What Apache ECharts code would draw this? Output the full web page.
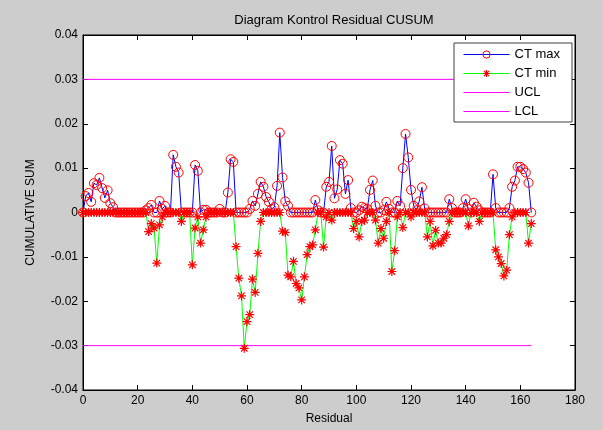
<!DOCTYPE html>
<html><head><meta charset="utf-8">
<script src="https://cdn.jsdelivr.net/npm/echarts@6/dist/echarts.min.js"></script>
<style>html,body{margin:0;padding:0;background:#cdcdcd}#c{width:603px;height:430px}</style>
</head><body><div id="c"></div>
<script>
var titleText = 'Diagram Kontrol Residual CUSUM';
var xLabel = 'Residual';
var yLabel = 'CUMULATIVE SUM';
var seriesNames = ['CT max', 'CT min', 'UCL', 'LCL'];
var uclValue = 0.03;
var lclValue = -0.03;
var limitStart = 0;
var limitEnd = 164;
// CT max, index 0..164
var ctMax = [
0,0.0037,0.0044,0.0024,0.0066,0.0062,0.0078,0.0055,0.0033,0.005,
0.0021,0.0012,0,0,0,0,0,0,0,0,
0,0,0,0.0005,0.001,0.0017,0,0,0.0026,0.0008,
0.0015,0,0,0.013,0.0103,0.009,0,0,0,0,
0,0.0107,0.0094,0,0.0006,0.0006,0,0,0,0,
0.0008,0,0,0.0045,0.012,0.0114,0,0,0,0,
0,0.0008,0.0026,0.0015,0.0042,0.0069,0.0058,0.0035,0.0024,0.0008,
0.0012,0.006,0.018,0.0079,0.0025,0.0015,0,0,0,0,
0,0,0,0,0,0.0028,0.0005,0,0,0.0058,
0.0069,0.015,0.0032,0.0052,0.0118,0.011,0.0042,0.0073,0.001,0,
0,0.0005,0.0013,0.001,0.0008,0.0051,0.0072,0.0015,0,0,
0.0005,0.0024,0.0008,0,0,0.0026,0.0015,0.01,0.0177,0.0124,
0.0051,0.0015,0.0005,0.0025,0.0057,0.0009,0,0,0,0,
0,0,0,0,0.003,0.001,0,0,0,0.001,
0.003,0.0008,0,0.0022,0.0013,0.0005,0,0,0,0,
0.0086,0.001,0,0,0,0,0.001,0.0058,0.0072,0.0103,
0.0103,0.0098,0.009,0.0067,0
];
// CT min, index 0..164
var ctMin = [
0,0,0,0,0,0,0,0,0,0,
0,0,0,0,0,0,0,0,0,0,
0,0,0,0,-0.0043,-0.0025,-0.0035,-0.0114,-0.0028,-0.001,
0,0,0,0,0,0,-0.002,0,0,0,
-0.0118,-0.0035,-0.001,-0.0069,-0.0039,-0.001,0,0,0,0,
0,0,0,0,0,0,-0.0077,-0.0148,-0.0188,-0.0306,
-0.0246,-0.023,-0.015,-0.018,-0.0092,-0.002,0,0,0,0,
0,0,0,-0.0042,-0.0045,-0.0141,-0.0145,-0.011,-0.016,-0.017,
-0.0197,-0.0145,-0.0095,-0.0077,-0.0073,-0.0039,0,0,-0.0078,-0.001,
0,-0.0017,0,0,0,0,0,0,0,-0.0036,
-0.002,-0.0055,-0.002,-0.0017,0,0,0,-0.0017,-0.0069,-0.0036,
-0.0058,-0.002,0,-0.0133,-0.0086,-0.001,0,-0.0034,0,0,
-0.001,0,0,0,0,0,-0.0055,-0.002,-0.0075,-0.004,
-0.0069,-0.0069,-0.0058,-0.005,-0.002,0,0,0,0,0,
0,-0.003,0,0,0,-0.002,0,0,0,0,
0,-0.0084,-0.01,-0.0115,-0.0143,-0.013,-0.005,-0.001,0,0,
0,0,0,-0.0069,-0.0025
];
var xMin = 0, xMax = 180, xStep = 20;
var yMin = -0.04, yMax = 0.04, yStep = 0.01;

function pairs(arr){ return arr.map(function(v,i){ return [i, v]; }); }
var star = 'path://M0,-5L0,5M-5,0L5,0M-3.6,-3.6L3.6,3.6M-3.6,3.6L3.6,-3.6';
var fontFam = '"Liberation Sans", Arial, sans-serif';

var chart = echarts.init(document.getElementById('c'), null, {renderer:'canvas'});
var axisCommon = {
  axisLine:{show:true, onZero:false, lineStyle:{color:'#000', width:1}},
  axisTick:{show:true, inside:true, length:5, lineStyle:{color:'#000'}},
  splitLine:{show:false}
};
var hiddenSym = {color:'rgba(0,0,0,0)', borderColor:'rgba(0,0,0,0)', borderWidth:0};
chart.setOption({
  backgroundColor:'#cdcdcd',
  animation:false,
  title:{text:titleText, left:329, textAlign:'center', top:9,
    textStyle:{fontFamily:fontFam, fontSize:13, fontWeight:'normal', color:'#000'}},
  grid:{left:83, right:28, top:35, bottom:40, show:true, backgroundColor:'#fff', borderColor:'#000', borderWidth:1},
  legend:{
    orient:'vertical', right:31, top:43, itemWidth:46, itemHeight:9, itemGap:6,
    backgroundColor:'#fff', borderColor:'#404040', borderWidth:1, padding:[5,12,4,9],
    textStyle:{fontFamily:fontFam, fontSize:13, color:'#000'},
    lineStyle:{width:1},
    data:[
      {name:seriesNames[0], itemStyle:{color:'rgba(0,0,0,0)', borderColor:'#ff0000', borderWidth:1}},
      {name:seriesNames[1], itemStyle:{color:'rgba(0,0,0,0)', borderColor:'#ff0000', borderWidth:1.2}},
      {name:seriesNames[2], itemStyle:hiddenSym},
      {name:seriesNames[3], itemStyle:hiddenSym}
    ]
  },
  xAxis:[
    Object.assign({type:'value', min:xMin, max:xMax, interval:xStep, position:'bottom',
      name:xLabel, nameLocation:'middle', nameGap:23,
      nameTextStyle:{fontFamily:fontFam, fontSize:12, color:'#000'},
      axisLabel:{fontFamily:fontFam, fontSize:12, color:'#000', margin:5}}, axisCommon),
    Object.assign({type:'value', min:xMin, max:xMax, interval:xStep, position:'top',
      axisLabel:{show:false}}, axisCommon)
  ],
  yAxis:[
    Object.assign({type:'value', min:yMin, max:yMax, interval:yStep, position:'left',
      name:yLabel, nameLocation:'middle', nameGap:46,
      nameTextStyle:{fontFamily:fontFam, fontSize:12, color:'#000'},
      axisLabel:{fontFamily:fontFam, fontSize:12, color:'#000', margin:5,
        formatter:function(v){ var r=Math.round(v*100)/100; return r===0?'0':String(r); }}}, axisCommon),
    Object.assign({type:'value', min:yMin, max:yMax, interval:yStep, position:'right',
      axisLabel:{show:false}}, axisCommon)
  ],
  series:[
    {name:seriesNames[0], type:'line', data:pairs(ctMax), symbol:'circle', symbolSize:9,
      lineStyle:{color:'#0000ff', width:1}, color:'#0000ff',
      itemStyle:{color:'rgba(0,0,0,0)', borderColor:'#ff0000', borderWidth:1}, z:2},
    {name:seriesNames[1], type:'line', data:pairs(ctMin), symbol:star, symbolSize:9,
      lineStyle:{color:'#00ff00', width:1}, color:'#00ff00',
      itemStyle:{color:'rgba(0,0,0,0)', borderColor:'#ff0000', borderWidth:1.2}, z:3},
    {name:seriesNames[2], type:'line', data:[[limitStart,uclValue],[limitEnd,uclValue]], symbol:'none',
      lineStyle:{color:'#ff00ff', width:1}, color:'#ff00ff', z:1},
    {name:seriesNames[3], type:'line', data:[[limitStart,lclValue],[limitEnd,lclValue]], symbol:'none',
      lineStyle:{color:'#ff00ff', width:1}, color:'#ff00ff', z:1}
  ]
});
</script></body></html>
